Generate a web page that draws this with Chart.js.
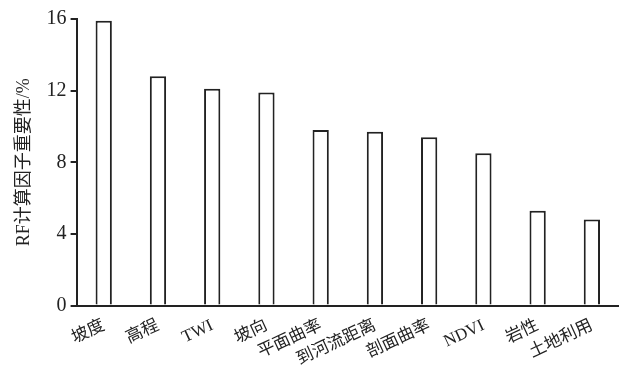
<!DOCTYPE html>
<html>
<head>
<meta charset="utf-8">
<script src="https://cdn.jsdelivr.net/npm/chart.js@4/dist/chart.umd.min.js"></script>
<style>
  html, body { margin: 0; padding: 0; background: #fff; }
  #wrap { width: 619px; height: 375px; }
</style>
</head>
<body>
<div id="wrap"><canvas id="rfChart"></canvas></div>
<script>
// 因子名称与 RF 重要性 (%)
const factors = ['坡度', '高程', 'TWI', '坡向', '平面曲率', '到河流距离', '剖面曲率', 'NDVI', '岩性', '土地利用'];
const importance = [15.9, 12.8, 12.1, 11.9, 9.8, 9.7, 9.4, 8.5, 5.3, 4.8];
const yTicks = [0, 4, 8, 12, 16];

const fontFam = '"Liberation Serif", "Noto Sans CJK SC", serif';
const ink = '#222';

new Chart(document.getElementById('rfChart'), {
    type: 'bar',
    data: {
        labels: factors,
        datasets: [{
            data: importance,
            backgroundColor: '#fff',
            borderColor: ink,
            borderWidth: 2,
            borderSkipped: 'bottom',
            barPercentage: 0.3,
            categoryPercentage: 1.0
        }]
    },
    options: {
        responsive: true, maintainAspectRatio: false,
        animation: false,
        layout: { padding: { top: 19, right: 0, left: 13, bottom: 3 } },
        plugins: { legend: { display: false }, tooltip: { enabled: false } },
        scales: {
            x: {
                grid: { display: false },
                border: { display: true, color: ink, width: 2 },
                ticks: {
                    color: ink, autoSkip: false,
                    minRotation: 25, maxRotation: 25,
                    padding: 2,
                    font: { family: fontFam, size: 17 }
                }
            },
            y: {
                min: 0, max: 16,
                afterBuildTicks: axis => { axis.ticks = yTicks.map(v => ({ value: v })); },
                grid: { drawOnChartArea: false, tickLength: 6, color: ink, lineWidth: 2 },
                border: { display: true, color: ink, width: 2 },
                ticks: { color: ink, padding: 4, font: { family: fontFam, size: 20 } },
                title: {
                    display: true, text: 'RF计算因子重要性/%', color: ink,
                    padding: { top: 0, bottom: 8 },
                    font: { family: fontFam, size: 18 }
                }
            }
        }
    }
});
</script>
</body>
</html>
